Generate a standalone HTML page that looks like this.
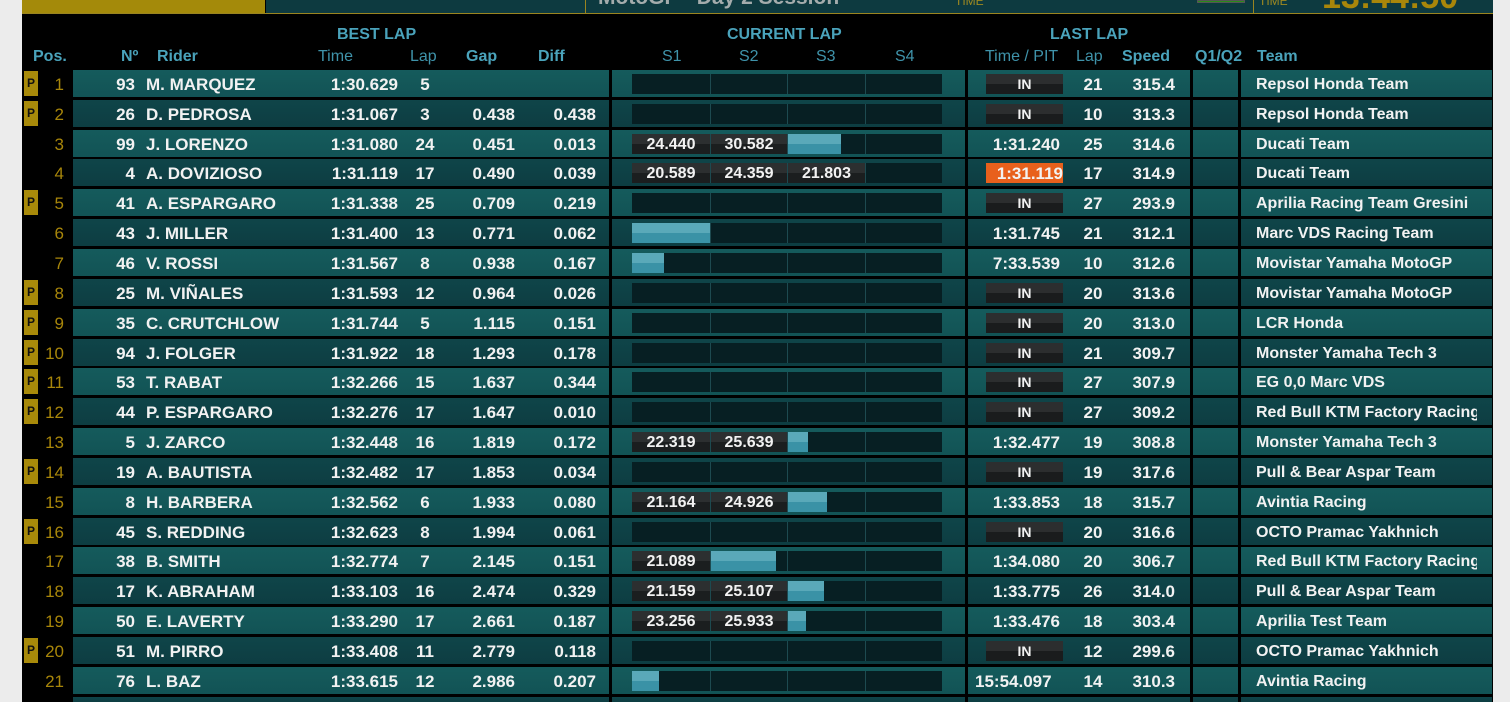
<!DOCTYPE html>
<html style="width:1510px;height:702px;overflow:hidden"><head><meta charset="utf-8"><style>
*{margin:0;padding:0;box-sizing:border-box}
body{width:1510px;height:702px;overflow:hidden;background:#ececec;font-family:"Liberation Sans",sans-serif;position:relative}
#m{position:absolute;left:22px;top:0;width:1471px;height:702px;background:#000}
.a{position:absolute}
.h{position:absolute;color:#4aa3bb;font-size:16px;font-weight:bold;white-space:nowrap}
.hn{font-weight:normal;color:#3f93aa}
.r{position:absolute;left:0;width:1510px;height:27px;color:#f2f2f2;font-size:17px;font-weight:bold;line-height:29px}
.r>div{position:absolute;top:0;height:27px;white-space:nowrap}
.o .bk{background:linear-gradient(#155b5c,#125355)}
.e .bk{background:linear-gradient(#0f4549,#0d3d42)}
.b1{left:73px;width:536px}.b2{left:612px;width:353px}.b3{left:968px;width:222px}.b4{left:1193px;width:45px}.b5{left:1241px;width:251px}
.pb{left:24px;width:14px;top:1px!important;height:25px!important;background:#a88a0a;color:#111;font-size:12px;text-align:center;line-height:25px}
.ps{left:40px;width:24px;text-align:right;color:#a8860a;font-weight:normal}
.no{left:95px;width:40px;text-align:right}
.rd{left:146px}
.tm{left:300px;width:98px;text-align:right}
.lp{left:405px;width:40px;text-align:center}
.gp{left:455px;width:60px;text-align:right}
.df{left:536px;width:60px;text-align:right}
.s{top:4px!important;height:20px!important;background:#071f23;border-left:1px solid #1d4a50}
.s1{left:632px;width:78px;border-left:none}.s2{left:710px;width:77px}.s3{left:787px;width:78px}.s4{left:865px;width:77px}
.st{background:linear-gradient(#2c2f30 50%,#1b1e1f 50%);text-align:center;line-height:22px;font-size:16px}
.bl{position:absolute;left:0;top:0;height:20px;background:linear-gradient(#5aa9b9 50%,#3a92a6 50%)}
.in{left:986px;width:77px;top:4px!important;height:20px!important;background:linear-gradient(#2c2e2f 50%,#1a1c1d 50%);text-align:center;line-height:21px;font-size:14px}
.or{left:986px;width:77px;top:4px!important;height:20px!important;background:#e8601c;overflow:hidden;line-height:21px;text-align:right}
.lt{left:968px;width:92px;text-align:right}
.ll{left:1073px;width:40px;text-align:center}
.sp{left:1120px;width:55px;text-align:right}
.tn{left:1256px;width:221px;overflow:hidden;font-size:16px;line-height:30px}
</style></head><body>
<div id="m"></div>
<div class="a" style="left:22px;top:0;width:243px;height:13px;background:#a48a0a"></div>
<div class="a" style="left:266px;top:0;width:1227px;height:13px;background:#0d3a40"></div>
<div class="a" style="left:22px;top:13px;width:1471px;height:1px;background:#9a8420"></div>
<div class="a" style="left:585px;top:0;width:1px;height:13px;background:#9a8420"></div>
<div class="a" style="left:1253px;top:0;width:1px;height:13px;background:#9a8420"></div>
<div class="a" style="left:598px;top:-14px;color:#a4acac;font-size:21px;font-weight:bold">MotoGP - Day 2 Session</div>
<div class="a" style="left:955px;top:-6px;color:#a08a20;font-size:12px">TIME</div>
<div class="a" style="left:1197px;top:0;width:48px;height:3px;background:#2a8a1a;border:1px solid #555"></div>
<div class="a" style="left:1259px;top:-6px;color:#a08a20;font-size:12px">TIME</div>
<div class="a" style="left:1322px;top:-22px;color:#a8860a;font-size:34px;font-weight:bold">13:44:50</div>

<div class="h" style="left:337px;top:26px">BEST LAP</div>
<div class="h" style="left:727px;top:26px">CURRENT LAP</div>
<div class="h" style="left:1050px;top:26px">LAST LAP</div>
<div class="h" style="left:33px;top:48px">Pos.</div>
<div class="h" style="left:121px;top:48px">Nº</div>
<div class="h" style="left:157px;top:48px">Rider</div>
<div class="h hn" style="left:318px;top:48px">Time</div>
<div class="h hn" style="left:410px;top:48px">Lap</div>
<div class="h" style="left:466px;top:48px">Gap</div>
<div class="h" style="left:538px;top:48px">Diff</div>
<div class="h hn" style="left:662px;top:48px">S1</div>
<div class="h hn" style="left:739px;top:48px">S2</div>
<div class="h hn" style="left:816px;top:48px">S3</div>
<div class="h hn" style="left:895px;top:48px">S4</div>
<div class="h hn" style="left:985px;top:48px">Time / PIT</div>
<div class="h hn" style="left:1076px;top:48px">Lap</div>
<div class="h" style="left:1122px;top:48px">Speed</div>
<div class="h" style="left:1195px;top:48px">Q1/Q2</div>
<div class="h" style="left:1257px;top:48px">Team</div>

<div class="r o" style="top:70px"><div class="bk b1"></div><div class="bk b2"></div><div class="bk b3"></div><div class="bk b4"></div><div class="bk b5"></div><div class="pb">P</div><div class="ps">1</div><div class="no">93</div><div class="rd">M. MARQUEZ</div><div class="tm">1:30.629</div><div class="lp">5</div><div class="gp"></div><div class="df"></div><div class="s s1"></div><div class="s s2"></div><div class="s s3"></div><div class="s s4"></div><div class="in">IN</div><div class="ll">21</div><div class="sp">315.4</div><div class="tn">Repsol Honda Team</div></div>
<div class="r e" style="top:100px"><div class="bk b1"></div><div class="bk b2"></div><div class="bk b3"></div><div class="bk b4"></div><div class="bk b5"></div><div class="pb">P</div><div class="ps">2</div><div class="no">26</div><div class="rd">D. PEDROSA</div><div class="tm">1:31.067</div><div class="lp">3</div><div class="gp">0.438</div><div class="df">0.438</div><div class="s s1"></div><div class="s s2"></div><div class="s s3"></div><div class="s s4"></div><div class="in">IN</div><div class="ll">10</div><div class="sp">313.3</div><div class="tn">Repsol Honda Team</div></div>
<div class="r o" style="top:130px"><div class="bk b1"></div><div class="bk b2"></div><div class="bk b3"></div><div class="bk b4"></div><div class="bk b5"></div><div class="ps">3</div><div class="no">99</div><div class="rd">J. LORENZO</div><div class="tm">1:31.080</div><div class="lp">24</div><div class="gp">0.451</div><div class="df">0.013</div><div class="s s1 st">24.440</div><div class="s s2 st">30.582</div><div class="s s3"><div class="bl" style="width:53px"></div></div><div class="s s4"></div><div class="lt">1:31.240</div><div class="ll">25</div><div class="sp">314.6</div><div class="tn">Ducati Team</div></div>
<div class="r e" style="top:159px"><div class="bk b1"></div><div class="bk b2"></div><div class="bk b3"></div><div class="bk b4"></div><div class="bk b5"></div><div class="ps">4</div><div class="no">4</div><div class="rd">A. DOVIZIOSO</div><div class="tm">1:31.119</div><div class="lp">17</div><div class="gp">0.490</div><div class="df">0.039</div><div class="s s1 st">20.589</div><div class="s s2 st">24.359</div><div class="s s3 st">21.803</div><div class="s s4"></div><div class="or">1:31.119</div><div class="ll">17</div><div class="sp">314.9</div><div class="tn">Ducati Team</div></div>
<div class="r o" style="top:189px"><div class="bk b1"></div><div class="bk b2"></div><div class="bk b3"></div><div class="bk b4"></div><div class="bk b5"></div><div class="pb">P</div><div class="ps">5</div><div class="no">41</div><div class="rd">A. ESPARGARO</div><div class="tm">1:31.338</div><div class="lp">25</div><div class="gp">0.709</div><div class="df">0.219</div><div class="s s1"></div><div class="s s2"></div><div class="s s3"></div><div class="s s4"></div><div class="in">IN</div><div class="ll">27</div><div class="sp">293.9</div><div class="tn">Aprilia Racing Team Gresini</div></div>
<div class="r e" style="top:219px"><div class="bk b1"></div><div class="bk b2"></div><div class="bk b3"></div><div class="bk b4"></div><div class="bk b5"></div><div class="ps">6</div><div class="no">43</div><div class="rd">J. MILLER</div><div class="tm">1:31.400</div><div class="lp">13</div><div class="gp">0.771</div><div class="df">0.062</div><div class="s s1"><div class="bl" style="width:81px"></div></div><div class="s s2"></div><div class="s s3"></div><div class="s s4"></div><div class="lt">1:31.745</div><div class="ll">21</div><div class="sp">312.1</div><div class="tn">Marc VDS Racing Team</div></div>
<div class="r o" style="top:249px"><div class="bk b1"></div><div class="bk b2"></div><div class="bk b3"></div><div class="bk b4"></div><div class="bk b5"></div><div class="ps">7</div><div class="no">46</div><div class="rd">V. ROSSI</div><div class="tm">1:31.567</div><div class="lp">8</div><div class="gp">0.938</div><div class="df">0.167</div><div class="s s1"><div class="bl" style="width:32px"></div></div><div class="s s2"></div><div class="s s3"></div><div class="s s4"></div><div class="lt">7:33.539</div><div class="ll">10</div><div class="sp">312.6</div><div class="tn">Movistar Yamaha MotoGP</div></div>
<div class="r e" style="top:279px"><div class="bk b1"></div><div class="bk b2"></div><div class="bk b3"></div><div class="bk b4"></div><div class="bk b5"></div><div class="pb">P</div><div class="ps">8</div><div class="no">25</div><div class="rd">M. VIÑALES</div><div class="tm">1:31.593</div><div class="lp">12</div><div class="gp">0.964</div><div class="df">0.026</div><div class="s s1"></div><div class="s s2"></div><div class="s s3"></div><div class="s s4"></div><div class="in">IN</div><div class="ll">20</div><div class="sp">313.6</div><div class="tn">Movistar Yamaha MotoGP</div></div>
<div class="r o" style="top:309px"><div class="bk b1"></div><div class="bk b2"></div><div class="bk b3"></div><div class="bk b4"></div><div class="bk b5"></div><div class="pb">P</div><div class="ps">9</div><div class="no">35</div><div class="rd">C. CRUTCHLOW</div><div class="tm">1:31.744</div><div class="lp">5</div><div class="gp">1.115</div><div class="df">0.151</div><div class="s s1"></div><div class="s s2"></div><div class="s s3"></div><div class="s s4"></div><div class="in">IN</div><div class="ll">20</div><div class="sp">313.0</div><div class="tn">LCR Honda</div></div>
<div class="r e" style="top:339px"><div class="bk b1"></div><div class="bk b2"></div><div class="bk b3"></div><div class="bk b4"></div><div class="bk b5"></div><div class="pb">P</div><div class="ps">10</div><div class="no">94</div><div class="rd">J. FOLGER</div><div class="tm">1:31.922</div><div class="lp">18</div><div class="gp">1.293</div><div class="df">0.178</div><div class="s s1"></div><div class="s s2"></div><div class="s s3"></div><div class="s s4"></div><div class="in">IN</div><div class="ll">21</div><div class="sp">309.7</div><div class="tn">Monster Yamaha Tech 3</div></div>
<div class="r o" style="top:368px"><div class="bk b1"></div><div class="bk b2"></div><div class="bk b3"></div><div class="bk b4"></div><div class="bk b5"></div><div class="pb">P</div><div class="ps">11</div><div class="no">53</div><div class="rd">T. RABAT</div><div class="tm">1:32.266</div><div class="lp">15</div><div class="gp">1.637</div><div class="df">0.344</div><div class="s s1"></div><div class="s s2"></div><div class="s s3"></div><div class="s s4"></div><div class="in">IN</div><div class="ll">27</div><div class="sp">307.9</div><div class="tn">EG 0,0 Marc VDS</div></div>
<div class="r e" style="top:398px"><div class="bk b1"></div><div class="bk b2"></div><div class="bk b3"></div><div class="bk b4"></div><div class="bk b5"></div><div class="pb">P</div><div class="ps">12</div><div class="no">44</div><div class="rd">P. ESPARGARO</div><div class="tm">1:32.276</div><div class="lp">17</div><div class="gp">1.647</div><div class="df">0.010</div><div class="s s1"></div><div class="s s2"></div><div class="s s3"></div><div class="s s4"></div><div class="in">IN</div><div class="ll">27</div><div class="sp">309.2</div><div class="tn">Red Bull KTM Factory Racing</div></div>
<div class="r o" style="top:428px"><div class="bk b1"></div><div class="bk b2"></div><div class="bk b3"></div><div class="bk b4"></div><div class="bk b5"></div><div class="ps">13</div><div class="no">5</div><div class="rd">J. ZARCO</div><div class="tm">1:32.448</div><div class="lp">16</div><div class="gp">1.819</div><div class="df">0.172</div><div class="s s1 st">22.319</div><div class="s s2 st">25.639</div><div class="s s3"><div class="bl" style="width:20px"></div></div><div class="s s4"></div><div class="lt">1:32.477</div><div class="ll">19</div><div class="sp">308.8</div><div class="tn">Monster Yamaha Tech 3</div></div>
<div class="r e" style="top:458px"><div class="bk b1"></div><div class="bk b2"></div><div class="bk b3"></div><div class="bk b4"></div><div class="bk b5"></div><div class="pb">P</div><div class="ps">14</div><div class="no">19</div><div class="rd">A. BAUTISTA</div><div class="tm">1:32.482</div><div class="lp">17</div><div class="gp">1.853</div><div class="df">0.034</div><div class="s s1"></div><div class="s s2"></div><div class="s s3"></div><div class="s s4"></div><div class="in">IN</div><div class="ll">19</div><div class="sp">317.6</div><div class="tn">Pull &amp; Bear Aspar Team</div></div>
<div class="r o" style="top:488px"><div class="bk b1"></div><div class="bk b2"></div><div class="bk b3"></div><div class="bk b4"></div><div class="bk b5"></div><div class="ps">15</div><div class="no">8</div><div class="rd">H. BARBERA</div><div class="tm">1:32.562</div><div class="lp">6</div><div class="gp">1.933</div><div class="df">0.080</div><div class="s s1 st">21.164</div><div class="s s2 st">24.926</div><div class="s s3"><div class="bl" style="width:39px"></div></div><div class="s s4"></div><div class="lt">1:33.853</div><div class="ll">18</div><div class="sp">315.7</div><div class="tn">Avintia Racing</div></div>
<div class="r e" style="top:518px"><div class="bk b1"></div><div class="bk b2"></div><div class="bk b3"></div><div class="bk b4"></div><div class="bk b5"></div><div class="pb">P</div><div class="ps">16</div><div class="no">45</div><div class="rd">S. REDDING</div><div class="tm">1:32.623</div><div class="lp">8</div><div class="gp">1.994</div><div class="df">0.061</div><div class="s s1"></div><div class="s s2"></div><div class="s s3"></div><div class="s s4"></div><div class="in">IN</div><div class="ll">20</div><div class="sp">316.6</div><div class="tn">OCTO Pramac Yakhnich</div></div>
<div class="r o" style="top:547px"><div class="bk b1"></div><div class="bk b2"></div><div class="bk b3"></div><div class="bk b4"></div><div class="bk b5"></div><div class="ps">17</div><div class="no">38</div><div class="rd">B. SMITH</div><div class="tm">1:32.774</div><div class="lp">7</div><div class="gp">2.145</div><div class="df">0.151</div><div class="s s1 st">21.089</div><div class="s s2"><div class="bl" style="width:65px"></div></div><div class="s s3"></div><div class="s s4"></div><div class="lt">1:34.080</div><div class="ll">20</div><div class="sp">306.7</div><div class="tn">Red Bull KTM Factory Racing</div></div>
<div class="r e" style="top:577px"><div class="bk b1"></div><div class="bk b2"></div><div class="bk b3"></div><div class="bk b4"></div><div class="bk b5"></div><div class="ps">18</div><div class="no">17</div><div class="rd">K. ABRAHAM</div><div class="tm">1:33.103</div><div class="lp">16</div><div class="gp">2.474</div><div class="df">0.329</div><div class="s s1 st">21.159</div><div class="s s2 st">25.107</div><div class="s s3"><div class="bl" style="width:36px"></div></div><div class="s s4"></div><div class="lt">1:33.775</div><div class="ll">26</div><div class="sp">314.0</div><div class="tn">Pull &amp; Bear Aspar Team</div></div>
<div class="r o" style="top:607px"><div class="bk b1"></div><div class="bk b2"></div><div class="bk b3"></div><div class="bk b4"></div><div class="bk b5"></div><div class="ps">19</div><div class="no">50</div><div class="rd">E. LAVERTY</div><div class="tm">1:33.290</div><div class="lp">17</div><div class="gp">2.661</div><div class="df">0.187</div><div class="s s1 st">23.256</div><div class="s s2 st">25.933</div><div class="s s3"><div class="bl" style="width:18px"></div></div><div class="s s4"></div><div class="lt">1:33.476</div><div class="ll">18</div><div class="sp">303.4</div><div class="tn">Aprilia Test Team</div></div>
<div class="r e" style="top:637px"><div class="bk b1"></div><div class="bk b2"></div><div class="bk b3"></div><div class="bk b4"></div><div class="bk b5"></div><div class="pb">P</div><div class="ps">20</div><div class="no">51</div><div class="rd">M. PIRRO</div><div class="tm">1:33.408</div><div class="lp">11</div><div class="gp">2.779</div><div class="df">0.118</div><div class="s s1"></div><div class="s s2"></div><div class="s s3"></div><div class="s s4"></div><div class="in">IN</div><div class="ll">12</div><div class="sp">299.6</div><div class="tn">OCTO Pramac Yakhnich</div></div>
<div class="r o" style="top:667px"><div class="bk b1"></div><div class="bk b2"></div><div class="bk b3"></div><div class="bk b4"></div><div class="bk b5"></div><div class="ps">21</div><div class="no">76</div><div class="rd">L. BAZ</div><div class="tm">1:33.615</div><div class="lp">12</div><div class="gp">2.986</div><div class="df">0.207</div><div class="s s1"><div class="bl" style="width:27px"></div></div><div class="s s2"></div><div class="s s3"></div><div class="s s4"></div><div class="lt" style="width:95px;overflow:hidden;text-align:left;left:975px">15:54.097</div><div class="ll">14</div><div class="sp">310.3</div><div class="tn">Avintia Racing</div></div>
<div class="r e" style="top:697px;height:5px;overflow:hidden"><div class="bk b1" style="height:5px"></div><div class="bk b2" style="height:5px"></div><div class="bk b3" style="height:5px"></div><div class="bk b4" style="height:5px"></div><div class="bk b5" style="height:5px"></div></div>
</body></html>
